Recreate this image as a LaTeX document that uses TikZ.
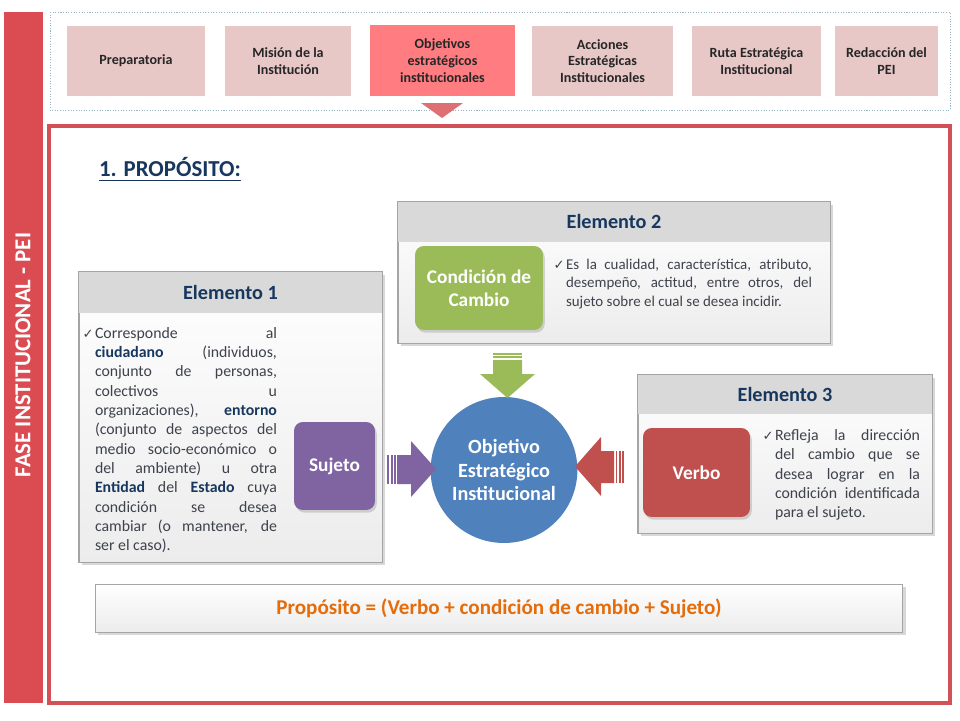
\documentclass[tikz,border=0pt]{standalone}
\usepackage{fontspec}
\setmainfont{Carlito}
\newfontfamily\symfont{DejaVu Sans}
\usepackage{tikz}
\usetikzlibrary{shapes.geometric,shadows,calc}
\definecolor{figbar}{RGB}{218,76,82}
\definecolor{figframe}{RGB}{210,80,86}
\definecolor{figstep}{RGB}{232,199,199}
\definecolor{figstepon}{RGB}{255,124,128}
\definecolor{figtri}{RGB}{222,112,116}
\definecolor{figdot}{RGB}{150,180,196}
\definecolor{fignavy}{RGB}{23,55,94}
\definecolor{figtxt}{RGB}{62,66,76}
\definecolor{fighead}{RGB}{217,217,217}
\definecolor{figbody}{RGB}{236,236,236}
\definecolor{figgrid}{RGB}{165,165,165}
\definecolor{figgreen}{RGB}{155,187,89}
\definecolor{figpurple}{RGB}{128,100,162}
\definecolor{figred}{RGB}{192,80,77}
\definecolor{figblue}{RGB}{79,129,189}
\definecolor{figorange}{RGB}{228,108,10}
\tikzset{
  stp/.style   ={fill=figstep, text=black!85, font=\fontsize{8}{9.6}\selectfont\bfseries, align=center, inner sep=1pt, minimum height=1.4cm},
  stpon/.style ={stp, fill=figstepon},
  elbox/.style ={draw=figgrid, line width=0.5pt, top color=white, bottom color=figbody, inner sep=0pt, drop shadow={shadow xshift=1.5pt, shadow yshift=-1.5pt, opacity=0.3}},
  elhd/.style  ={fill=fighead, text=fignavy, font=\fontsize{11.5}{13}\selectfont\bfseries, inner sep=0pt},
  key/.style   ={rounded corners=5pt, text=white, font=\fontsize{11}{13}\selectfont\bfseries, align=center, inner sep=1pt, drop shadow={shadow xshift=1pt, shadow yshift=-1.5pt, opacity=0.3}},
  txt/.style   ={text=figtxt, align=justify, inner sep=0pt},
}
\newcommand\tick{\llap{{\symfont\fontsize{7.5}{7.5}\selectfont ✓}\kern0.8pt}}
\newcommand\hl[1]{\textbf{\textcolor{fignavy}{#1}}}

\begin{document}
\begin{tikzpicture}[x=0.02cm,y=-0.02cm]
  \useasboundingbox (0,0) rectangle (960,720);
  \fill[white] (0,0) rectangle (960,720);
  \fill[figbar] (4,12) rectangle (43,703);
  \node[rotate=90, text=white, font=\fontsize{13}{15}\selectfont\bfseries] (fase) at (23,355) {FASE INSTITUCIONAL - PEI};
  \draw[figdot, line width=0.4pt, dash pattern=on 0.6pt off 0.9pt] (50,12) rectangle (950,110);
  \node[stp, minimum width=2.76cm] (s1) at (136,61) {Preparatoria};
  \node[stp, minimum width=2.52cm] (s2) at (288,61) {Misión de la\\Institución};
  \node[stpon, minimum width=2.9cm, minimum height=1.42cm] (s3) at (442.5,60.5) {Objetivos\\estratégicos\\institucionales};
  \node[stp, minimum width=2.82cm] (s4) at (602.5,61) {Acciones\\Estratégicas\\Institucionales};
  \node[stp, minimum width=2.58cm] (s5) at (756.5,61) {Ruta Estratégica\\Institucional};
  \node[stp, minimum width=2.06cm] (s6) at (886.5,61) {Redacción del\\PEI};
  \fill[figtri] (421,103) -- (463,103) -- (442,118) -- cycle;
  \draw[figframe, line width=2pt] (49,126) rectangle (950,703);
  \node[text=fignavy, font=\fontsize{13}{15}\selectfont\bfseries, inner sep=0pt] (prop) at (170,167) {1. PROPÓSITO:};
  \draw[fignavy, line width=1pt] ($(prop.base west)+(0,4)$) -- ($(prop.base east)+(0,4)$);

  \node[elbox, minimum width=8.64cm, minimum height=2.82cm] (el2) at (614,272.5) {};
  \node[elhd, minimum width=8.64cm, minimum height=0.8cm, anchor=north] (el2h) at (el2.north) {Elemento 2};
  \draw[figgrid, line width=0.5pt] (el2.north west) rectangle (el2.south east);
  \node[key, fill=figgreen, minimum width=2.56cm, minimum height=1.68cm] (cond) at (479,288) {Condición de\\Cambio};
  \node[txt, text width=4.92cm, font=\fontsize{8.5}{10.6}\selectfont] (el2t) at (689,284) {\tick Es la cualidad, característica, atributo,\linebreak desempeño, actitud, entre otros, del\linebreak sujeto sobre el cual se desea incidir.};

  \node[elbox, minimum width=6.06cm, minimum height=5.8cm] (el1) at (230.5,417) {};
  \node[elhd, minimum width=6.06cm, minimum height=0.82cm, anchor=north] (el1h) at (el1.north) {Elemento 1};
  \draw[figgrid, line width=0.5pt] (el1.north west) rectangle (el1.south east);
  \node[txt, text width=3.64cm, font=\fontsize{9}{11}\selectfont] (el1t) at (186,440) {\tick Corresponde al\linebreak \hl{ciudadano} (individuos,\linebreak conjunto de personas,\linebreak colectivos u\linebreak organizaciones), \hl{entorno}\linebreak (conjunto de aspectos del\linebreak medio socio-económico o\linebreak del ambiente) u otra\linebreak \hl{Entidad} del \hl{Estado} cuya\linebreak condición se desea\linebreak cambiar (o mantener, de\linebreak ser el caso).};
  \node[key, fill=figpurple, minimum width=1.62cm, minimum height=1.76cm] (suj) at (334.5,466) {Sujeto};

  \node[elbox, minimum width=5.88cm, minimum height=3.16cm] (el3) at (785,454) {};
  \node[elhd, minimum width=5.88cm, minimum height=0.78cm, anchor=north] (el3h) at (el3.north) {Elemento 3};
  \draw[figgrid, line width=0.5pt] (el3.north west) rectangle (el3.south east);
  \node[key, fill=figred, minimum width=2.14cm, minimum height=1.78cm] (verbo) at (696.5,472.5) {Verbo};
  \node[txt, text width=2.9cm, font=\fontsize{9}{11}\selectfont] (el3t) at (847.5,475) {\tick Refleja la dirección\linebreak del cambio que se\linebreak desea lograr en la\linebreak condición identificada\linebreak para el sujeto.};

  \node[ellipse, fill=figblue, minimum width=2.64cm, minimum height=2.92cm, inner sep=0pt, text=white, font=\fontsize{11.5}{13.2}\selectfont\bfseries, align=center] (obj) at (504,470) {Objetivo\\Estratégico\\Institucional};

  \fill[figgreen] (493,360) -- (522,360) -- (522,374) -- (535,374) -- (507.5,398) -- (480,374) -- (493,374) -- cycle;
  \fill[figgreen] (493,353) rectangle (522,354.5);
  \fill[figgreen] (493,356) rectangle (522,358);
  \fill[figpurple] (397,455) -- (411,455) -- (411,441) -- (436,469) -- (411,497) -- (411,484) -- (397,484) -- cycle;
  \fill[figpurple] (387,455) rectangle (389,484);
  \fill[figpurple] (391,455) rectangle (392.8,484);
  \fill[figpurple] (394.3,455) rectangle (395.8,484);
  \fill[figred] (614,451) -- (601,451) -- (601,437) -- (575,466.5) -- (601,496) -- (601,483) -- (614,483) -- cycle;
  \fill[figred] (615.5,451) rectangle (617.3,483);
  \fill[figred] (618.8,451) rectangle (620.5,483);
  \fill[figred] (622,451) rectangle (623.5,483);

  \node[elbox, minimum width=16.16cm, minimum height=0.96cm, text=figorange, font=\fontsize{12}{14}\selectfont\bfseries] (form) at (499,608) {Propósito = (Verbo + condición de cambio + Sujeto)};
\end{tikzpicture}
\end{document}
